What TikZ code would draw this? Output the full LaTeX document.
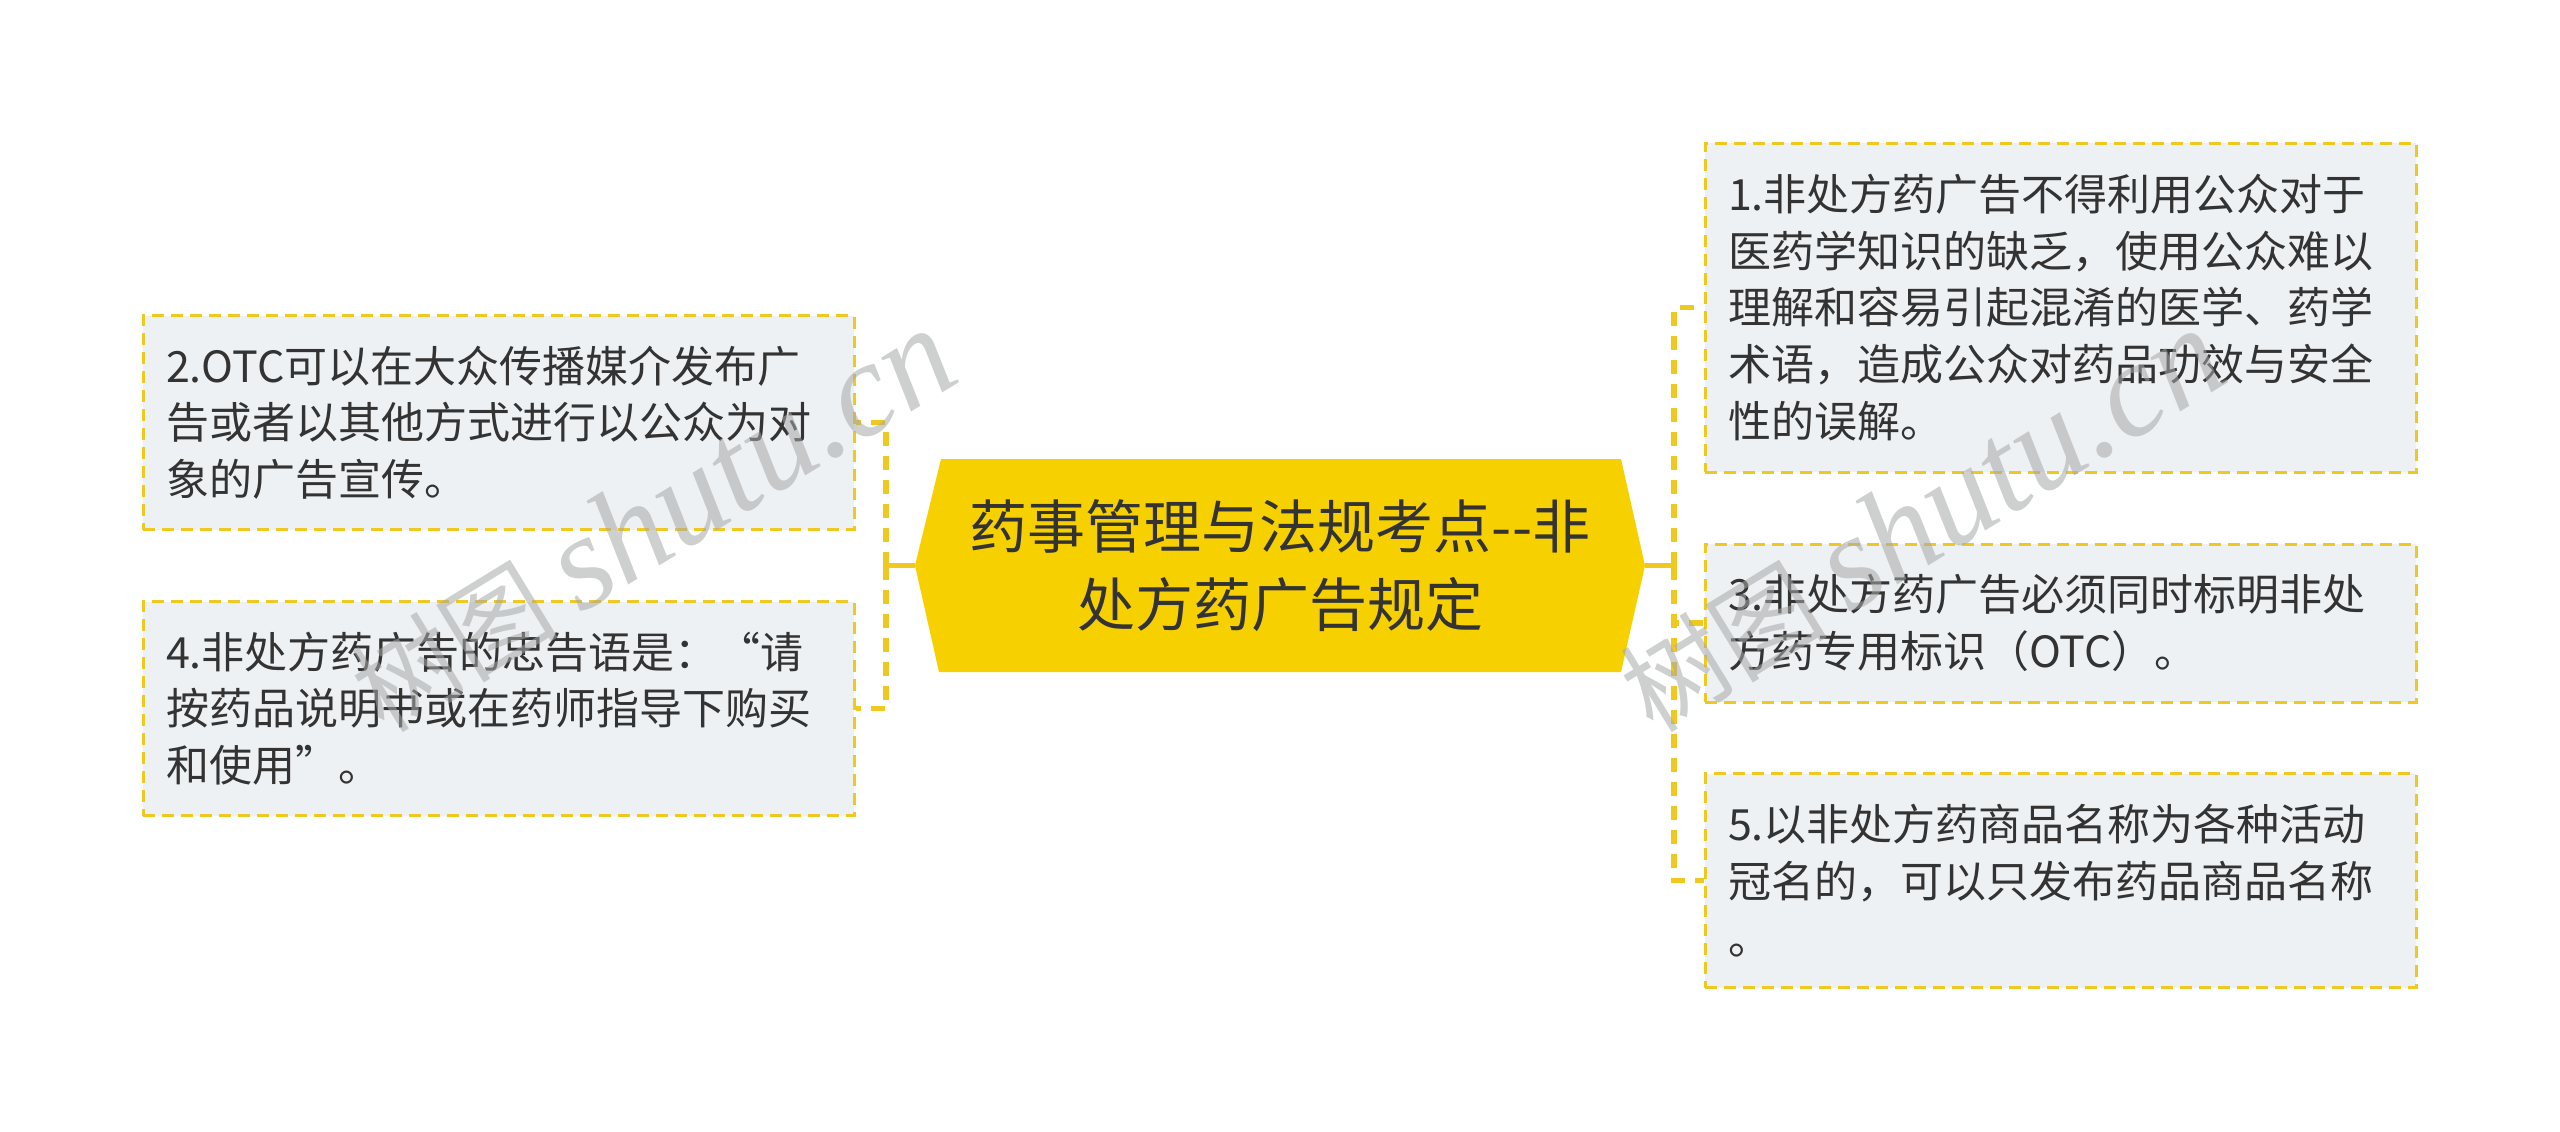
\documentclass[tikz,border=0pt]{standalone}
\usepackage{fontspec}
\setmainfont{Noto Sans CJK SC}
\newfontfamily\wmcjk{Noto Sans CJK SC}
\newfontfamily\wmlat{Liberation Serif}[ItalicFont={Liberation Serif Italic}]
\definecolor{gold}{HTML}{F7D000}
\definecolor{edge}{HTML}{EFC920}
\definecolor{panel}{HTML}{EEF1F4}
\definecolor{ink}{HTML}{333333}
\definecolor{wm}{HTML}{A6A8A8}
\tikzset{
  leaf/.style={draw=edge,fill=panel,line width=3pt,dash pattern=on 12pt off 7pt,
    minimum width=711pt,text width=665pt,inner xsep=23pt,inner ysep=0pt,align=left,
    text=ink,font=\fontsize{43}{56.7}\selectfont,anchor=center},
  rootnode/.style={minimum width=730pt,minimum height=213pt,inner sep=0pt,align=center,
    text=ink,font=\fontsize{58}{78}\selectfont},
  stub/.style={edge,line width=5pt},
  trunk/.style={edge,line width=5.5pt,dash pattern=on 14pt off 10pt},
  wmark/.style={text=wm,text opacity=0.55,rotate=31.5,inner sep=0pt}
}
\newcommand{\wmtext}{{\fontsize{104}{104}\selectfont\wmcjk 树图}\hspace{22pt}{\fontsize{134}{134}\selectfont\wmlat\itshape shutu.cn}}
\begin{document}
\begin{tikzpicture}[x=1pt,y=-1pt]
\useasboundingbox (0,0) rectangle (2560,1132);
\fill[white] (0,0) rectangle (2560,1132);
\fill[gold] (941,459) -- (1621,459) -- (1645,565.5) -- (1621,672) -- (939,672) -- (915,565.5) -- cycle;
\node[rootnode] (root) at (1280,565.5) {药事管理与法规考点{-}{-}非\\处方药广告规定};
\node[leaf,minimum height=329pt] (b1) at (2060.5,307.5) {1.非处方药广告不得利用公众对于\\医药学知识的缺乏，使用公众难以\\理解和容易引起混淆的医学、药学\\术语，造成公众对药品功效与安全\\性的误解。};
\node[leaf,minimum height=158pt] (b3) at (2060.5,623) {3.非处方药广告必须同时标明非处\\方药专用标识（OTC）。};
\node[leaf,minimum height=214pt] (b5) at (2060.5,880.5) {5.以非处方药商品名称为各种活动\\冠名的，可以只发布药品商品名称\\。};
\node[leaf,minimum height=214pt] (b2) at (498.5,422.5) {2.OTC可以在大众传播媒介发布广\\告或者以其他方式进行以公众为对\\象的广告宣传。};
\node[leaf,minimum height=214pt] (b4) at (498.5,708.5) {4.非处方药广告的忠告语是：“请\\按药品说明书或在药师指导下购买\\和使用”。};
\draw[stub] (root.east) -- ++(29,0) coordinate (rj);
\draw[stub] (root.west) -- ++(-29,0) coordinate (lj);
\draw[trunk] (rj) |- (b1.west);
\draw[trunk] (rj) |- (b3.west);
\draw[trunk] (rj) |- (b5.west);
\draw[trunk] (lj) |- (b2.east);
\draw[trunk] (lj) |- (b4.east);
\node[wmark] (w1) at (652,521) {\wmtext};
\node[wmark] (w2) at (1921,521) {\wmtext};
\end{tikzpicture}
\end{document}
